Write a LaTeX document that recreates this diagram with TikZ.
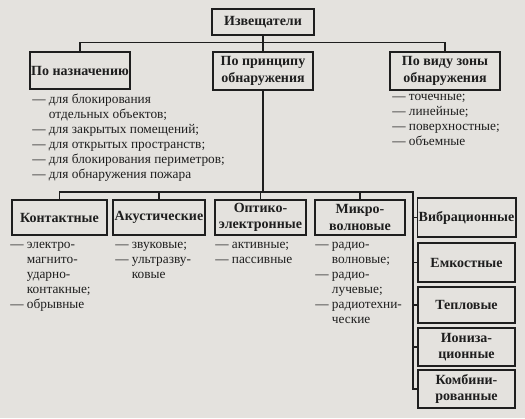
\documentclass[tikz,border=0pt]{standalone}
\usepackage{fontspec}
\setmainfont{Liberation Serif}
\usetikzlibrary{positioning}
\definecolor{paper}{RGB}{228,226,222}
\definecolor{ink}{RGB}{30,30,30}
\tikzset{
  box/.style={draw=ink,line width=1.3pt,fill=paper,align=center,inner sep=1pt,
    font=\fontsize{10.5}{12.5}\selectfont\bfseries,text=ink},
  list/.style={anchor=north west,inner sep=0pt,align=left,text=ink,
    font=\fontsize{10}{11.25}\selectfont,execute at begin node=\strut},
  link/.style={draw=ink,line width=0.9pt},
}
\newcommand{\cnt}{\hphantom{— }}

\begin{document}
\begin{tikzpicture}[x=0.75pt,y=-0.75pt]
  \fill[paper] (0,0) rectangle (525,418);
  \useasboundingbox (0,0) rectangle (525,418);
  % upper level
  \node[box,minimum width=77pt,minimum height=19.5pt] (izv) at (263,22) {Извещатели};
  \node[box,minimum width=75pt,minimum height=27.75pt] (naz) at (80,70.5) {По назначению};
  \node[box,minimum width=75pt,minimum height=28.5pt] (princ) at (263,71) {По принципу\\обнаружения};
  \node[box,minimum width=82.5pt,minimum height=28.5pt] (zona) at (445,71) {По виду зоны\\обнаружения};
  \draw[link] (izv) -- (princ);
  \draw[link] (naz.north) -- ++(0,-9) -| (zona.north);
  \node[list] (nazl) at (32,93.5) {— для блокирования\\\cnt отдельных объектов;\\— для закрытых помещений;\\— для открытых пространств;\\— для блокирования периметров;\\— для обнаружения пожара};
  \node[list] (zonal) at (392,93.5) {— точечные;\\— линейные;\\— поверхностные;\\— объемные};
  % lower level
  \node[box,minimum width=71.25pt,minimum height=26.25pt] (kont) at (59.5,217.5) {Контактные};
  \node[box,minimum width=69pt,minimum height=26.25pt] (akus) at (159,217.5) {Акустические};
  \node[box,minimum width=68.25pt,minimum height=26.25pt] (opt) at (260.5,217.5) {Оптико-\\электронные};
  \node[box,minimum width=67.5pt,minimum height=26.25pt] (mikro) at (360,217.5) {Микро-\\волновые};
  \node[box,minimum width=72.75pt,minimum height=29.25pt] (vibr) at (466.5,217.5) {Вибрационные};
  \node[box,minimum width=72.75pt,minimum height=29.25pt] (emk) at (466.5,262.5) {Емкостные};
  \node[box,minimum width=72.75pt,minimum height=27pt] (tepl) at (466.5,305) {Тепловые};
  \node[box,minimum width=72.75pt,minimum height=28.5pt] (ioniz) at (466.5,347) {Иониза-\\ционные};
  \node[box,minimum width=72.75pt,minimum height=28.5pt] (komb) at (466.5,389) {Комбини-\\рованные};
  \coordinate (bus) at (263,192);
  \coordinate (rbus) at (413,192);
  \draw[link] (princ) -- (bus);
  \draw[link] (kont.north) |- (rbus) |- (komb.west);
  \foreach \n in {akus,opt,mikro} \draw[link] (\n.north) -- (\n.north |- bus);
  \foreach \n in {vibr,emk,tepl,ioniz} \draw[link] (\n.west) -- (\n.west -| rbus);
  \node[list] (kontl) at (10,241.5) {— электро-\\\cnt магнито-\\\cnt ударно-\\\cnt контакные;\\— обрывные};
  \node[list] (akusl) at (115,241.5) {— звуковые;\\— ультразву-\\\cnt ковые};
  \node[list] (optl) at (215,241.5) {— активные;\\— пассивные};
  \node[list] (mikrol) at (315,241.5) {— радио-\\\cnt волновые;\\— радио-\\\cnt лучевые;\\— радиотехни-\\\cnt ческие};
\end{tikzpicture}
\end{document}
